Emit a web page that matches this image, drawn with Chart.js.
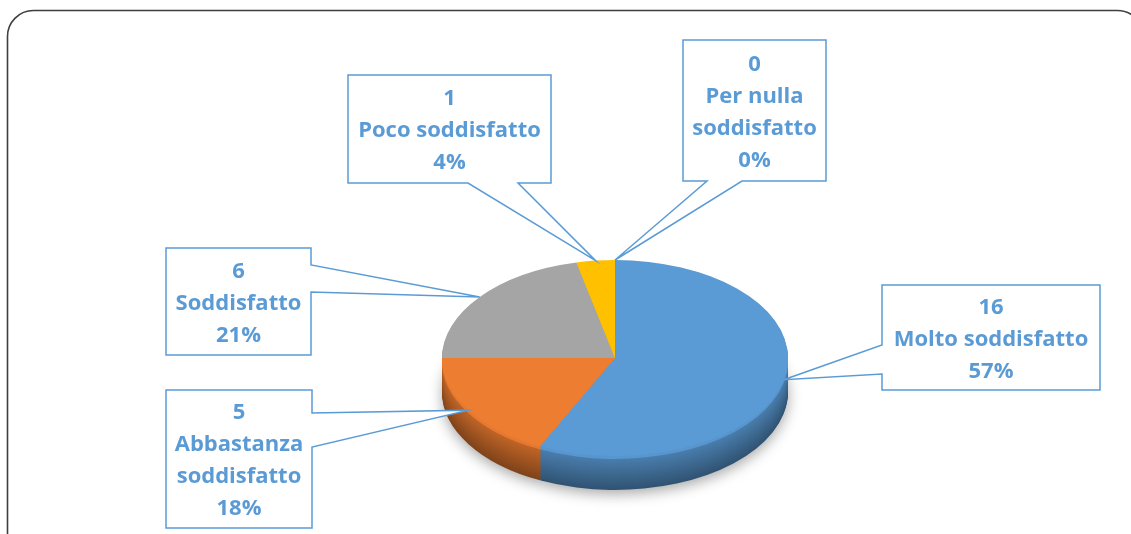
<!DOCTYPE html>
<html>
<head>
<meta charset="utf-8">
<script src="https://cdn.jsdelivr.net/npm/chart.js@4"></script>
<style>
  html, body { margin: 0; padding: 0; background: #fff; }
  #wrap { width: 1131px; height: 534px; position: relative; }
</style>
</head>
<body>
<div id="wrap"><canvas id="pie-chart" width="1131" height="534"></canvas></div>
<script>
// data
const categories = ["Molto soddisfatto", "Abbastanza soddisfatto", "Soddisfatto", "Poco soddisfatto", "Per nulla soddisfatto"];
const counts = [16, 5, 6, 1, 0];
const sliceColors = ["#5B9BD5", "#ED7D31", "#A5A5A5", "#FFC000", "#4472C4"];

// callout boxes (layout only): box rect, side of the pointer and where its base sits on that side
const callouts = [
  { x: 882, y: 285, w: 218, h: 105, side: "left",   b1: 60,  b2: 89 },
  { x: 166, y: 390, w: 146, h: 138, side: "right",  b1: 23,  b2: 57 },
  { x: 166, y: 248, w: 145, h: 107, side: "right",  b1: 17,  b2: 44 },
  { x: 348, y: 75,  w: 203, h: 108, side: "bottom", b1: 120, b2: 170 },
  { x: 683, y: 40,  w: 143, h: 141, side: "bottom", b1: 24,  b2: 59 }
];

const total = counts.reduce((a, b) => a + b, 0);
const pieX = 615, pieY = 358, rx = 173, ry = 98, depth = 34;
const labelBlue = "#5B9BD5";

function shade(hex, f) {
  const n = parseInt(hex.slice(1), 16);
  const r = (n >> 16) & 255, g = (n >> 8) & 255, b = n & 255;
  return "rgb(" + Math.round(r * f) + "," + Math.round(g * f) + "," + Math.round(b * f) + ")";
}

function setTransform(ctx, arc, dy) {
  const sx = rx / arc.outerRadius, sy = ry / arc.outerRadius;
  ctx.translate(pieX, pieY + dy);
  ctx.scale(sx, sy);
  ctx.translate(-arc.x, -arc.y);
}

// squashes the pie into an ellipse and builds the side wall from the same arcs
const tiltPlugin = {
  id: "tilt",
  beforeDraw(chart) {
    const ctx = chart.ctx;
    ctx.save();
    ctx.strokeStyle = "#3f3f3f";
    ctx.lineWidth = 1.6;
    ctx.beginPath();
    ctx.roundRect(7.5, 10.5, 1136, 620, 26);
    ctx.stroke();
    ctx.restore();
  },
  beforeDatasetsDraw(chart) {
    const ctx = chart.ctx;
    const arcs = chart.getDatasetMeta(0).data;
    for (let d = depth; d >= 1; d--) {
      ctx.save();
      if (d === depth) {
        ctx.shadowColor = "rgba(0,0,0,0.35)";
        ctx.shadowBlur = 14;
        ctx.shadowOffsetY = 4;
      }
      setTransform(ctx, arcs[0], d);
      const t = d / depth;
      const f = d <= 3 ? 0.97 : 0.84 - 0.3 * t;
      arcs.forEach((arc, i) => {
        const orig = arc.options;
        const c = shade(sliceColors[i], f);
        arc.options = Object.assign({}, orig, { backgroundColor: c, borderColor: c, borderWidth: 0 });
        arc.draw(ctx);
        arc.options = orig;
      });
      ctx.restore();
    }
    ctx.save();
    setTransform(ctx, arcs[0], 0);
  },
  afterDatasetsDraw(chart) {
    chart.ctx.restore();
  },
  afterDraw(chart) {
    const ctx = chart.ctx;
    const arcs = chart.getDatasetMeta(0).data;
    ctx.save();
    // pick a size so the longest single-line label is as wide as in the picture
    let size = 24;
    ctx.font = "bold " + size + "px 'Open Sans'";
    while (size > 12 && ctx.measureText(categories[0]).width > 198) {
      size -= 0.5;
      ctx.font = "bold " + size + "px 'Open Sans'";
    }
    ctx.textAlign = "center";
    ctx.textBaseline = "middle";
    arcs.forEach((arc, i) => {
      const c = callouts[i];
      const a = (arc.startAngle + arc.endAngle) / 2;
      const tx = pieX + rx * Math.cos(a);
      const ty = pieY + ry * Math.sin(a);
      ctx.beginPath();
      if (c.side === "bottom") {
        ctx.moveTo(c.x, c.y);
        ctx.lineTo(c.x + c.w, c.y);
        ctx.lineTo(c.x + c.w, c.y + c.h);
        ctx.lineTo(c.x + c.b2, c.y + c.h);
        ctx.lineTo(tx, ty);
        ctx.lineTo(c.x + c.b1, c.y + c.h);
        ctx.lineTo(c.x, c.y + c.h);
      } else if (c.side === "right") {
        ctx.moveTo(c.x, c.y);
        ctx.lineTo(c.x + c.w, c.y);
        ctx.lineTo(c.x + c.w, c.y + c.b1);
        ctx.lineTo(tx, ty);
        ctx.lineTo(c.x + c.w, c.y + c.b2);
        ctx.lineTo(c.x + c.w, c.y + c.h);
        ctx.lineTo(c.x, c.y + c.h);
      } else {
        ctx.moveTo(c.x, c.y);
        ctx.lineTo(c.x + c.w, c.y);
        ctx.lineTo(c.x + c.w, c.y + c.h);
        ctx.lineTo(c.x, c.y + c.h);
        ctx.lineTo(c.x, c.y + c.b2);
        ctx.lineTo(tx, ty);
        ctx.lineTo(c.x, c.y + c.b1);
      }
      ctx.closePath();
      ctx.fillStyle = "#fff";
      ctx.fill();
      ctx.strokeStyle = labelBlue;
      ctx.lineWidth = 1.5;
      ctx.stroke();

      // text: value, category (wrapped), percent
      const lines = [String(counts[i])];
      const words = categories[i].split(" ");
      let cur = "";
      words.forEach(w => {
        const test = cur ? cur + " " + w : w;
        if (cur && ctx.measureText(test).width > c.w - 10) {
          lines.push(cur);
          cur = w;
        } else {
          cur = test;
        }
      });
      lines.push(cur);
      lines.push(Math.round(counts[i] / total * 100) + "%");
      const lh = 32;
      const y0 = c.y + c.h / 2 - (lines.length - 1) * lh / 2 + 2;
      ctx.fillStyle = labelBlue;
      lines.forEach((ln, k) => ctx.fillText(ln, c.x + c.w / 2, y0 + k * lh));
    });
    ctx.restore();
  }
};

new Chart(document.getElementById("pie-chart"), {
  type: "pie",
  data: {
    labels: categories,
    datasets: [{
      data: counts,
      backgroundColor: sliceColors,
      borderWidth: 0,
      clip: false
    }]
  },
  options: {
    responsive: false,
    animation: false,
    events: [],
    layout: { padding: { left: 442, right: 343, top: 94, bottom: 94 } },
    plugins: {
      legend: { display: false },
      tooltip: { enabled: false }
    }
  },
  plugins: [tiltPlugin]
});
</script>
</body>
</html>
